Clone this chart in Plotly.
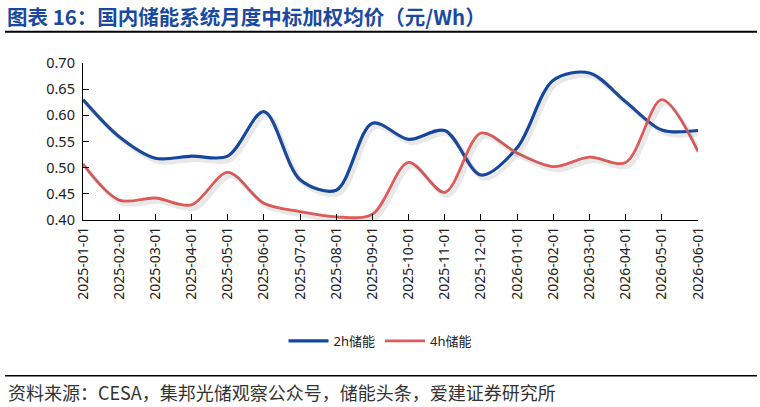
import plotly.graph_objects as go

# 数据：月度中标加权均价（元/Wh）
meses = ["2025-01-01", "2025-02-01", "2025-03-01", "2025-04-01", "2025-05-01", "2025-06-01",
         "2025-07-01", "2025-08-01", "2025-09-01", "2025-10-01", "2025-11-01", "2025-12-01",
         "2026-01-01", "2026-02-01", "2026-03-01", "2026-04-01", "2026-05-01", "2026-06-01"]
preco_2h = [0.630, 0.559, 0.518, 0.522, 0.522, 0.607, 0.477, 0.457, 0.585, 0.554, 0.571, 0.486,
            0.538, 0.667, 0.681, 0.626, 0.572, 0.571]
preco_4h = [0.507, 0.438, 0.442, 0.429, 0.491, 0.432, 0.416, 0.406, 0.411, 0.510, 0.453, 0.566,
            0.528, 0.502, 0.520, 0.510, 0.630, 0.531]
ticks_y = [0.40, 0.45, 0.50, 0.55, 0.60, 0.65, 0.70]

W, H = 760, 407
L, R, T, B = 83, 698, 63, 220  # área do gráfico em pixels

def px_x(p):
    return (p - L) / (R - L)

def px_y(p):
    return (B - p) / (B - T)

AZUL = "#1446a0"
VERMELHO = "#e05a5a"
FONTE = "Noto Sans, Noto Sans CJK SC, sans-serif"

fig = go.Figure()

# sombra das linhas (eixos sobrepostos levemente deslocados)
dx = 3 / ((R - L) / 17)
dy = 3.5 / ((B - T) / 0.30)
for serie in [preco_2h, preco_4h]:
    fig.add_trace(go.Scatter(x=list(range(len(meses))), y=serie, mode="lines",
                             line=dict(color="rgba(90,90,90,0.14)", width=4.5, shape="spline", smoothing=0.9),
                             xaxis="x2", yaxis="y2", showlegend=False, hoverinfo="skip"))

fig.add_trace(go.Scatter(x=list(range(len(meses))), y=preco_2h, name="2h储能", mode="lines",
                         line=dict(color=AZUL, width=3.2, shape="spline", smoothing=0.9)))
fig.add_trace(go.Scatter(x=list(range(len(meses))), y=preco_4h, name="4h储能", mode="lines",
                         line=dict(color=VERMELHO, width=2.8, shape="spline", smoothing=0.9)))

fig.update_layout(
    width=W, height=H,
    margin=dict(l=L, r=W - R, t=T, b=H - B),
    paper_bgcolor="white", plot_bgcolor="white",
    font=dict(family=FONTE, color="#222222"),
    showlegend=True,
    legend=dict(orientation="h", xref="container", yref="container",
                x=0.5, xanchor="center", y=1 - 341 / H, yanchor="middle",
                font=dict(size=13, color="#222222"), itemwidth=40,
                bgcolor="rgba(0,0,0,0)"),
    xaxis=dict(range=[0, 17], tickmode="array", tickvals=list(range(len(meses))), ticktext=meses,
               tickangle=-90, tickfont=dict(size=14, color="#222222"),
               showgrid=False, zeroline=False, showline=True, linecolor="black", linewidth=1.3,
               ticks="inside", ticklen=6, tickcolor="black", tickwidth=1.2),
    yaxis=dict(range=[0.40, 0.70], tickmode="array", tickvals=ticks_y, tickformat=".2f",
               tickfont=dict(size=14.5, color="#222222"),
               showgrid=False, zeroline=False, showline=True, linecolor="black", linewidth=1.3,
               ticks="inside", ticklen=6, tickcolor="black", tickwidth=1.2, ticklabelstandoff=4),
    xaxis2=dict(range=[0 - dx, 17 - dx], overlaying="x", visible=False),
    yaxis2=dict(range=[0.40 + dy, 0.70 + dy], overlaying="y", visible=False),
)

# título e fonte
fig.add_annotation(text="<b>图表 16：国内储能系统月度中标加权均价（元/Wh）</b>",
                   xref="paper", yref="paper", x=px_x(5), y=px_y(16), xanchor="left", yanchor="middle",
                   showarrow=False, font=dict(size=20.5, color="#1a4aa0", family="Noto Sans CJK SC"))
fig.add_annotation(text="资料来源：CESA，集邦光储观察公众号，储能头条，爱建证券研究所",
                   xref="paper", yref="paper", x=px_x(6), y=px_y(392), xanchor="left", yanchor="middle",
                   showarrow=False, font=dict(size=18, color="#333333", family="Noto Sans CJK SC"))

fig.add_shape(type="line", xref="paper", yref="paper", x0=px_x(5), x1=px_x(757), y0=px_y(31.7), y1=px_y(31.7),
              line=dict(color="black", width=2))
fig.add_shape(type="line", xref="paper", yref="paper", x0=px_x(5), x1=px_x(757), y0=px_y(375.7), y1=px_y(375.7),
              line=dict(color="black", width=1.5))

# remove a margem padrão do <body> para o gráfico ocupar a janela inteira
fig.write_html("out.html", config={"displayModeBar": False},
               post_script="document.body.style.margin='0';")
